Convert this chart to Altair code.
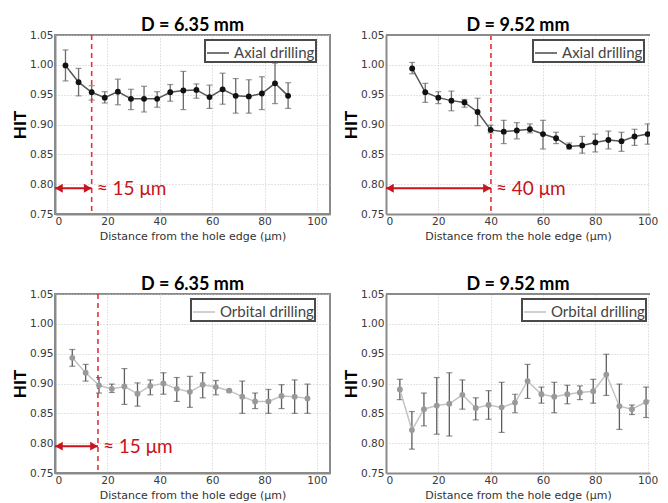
import altair as alt
import pandas as pd

# ---- data ----
ax635_x = [4, 9, 14, 19, 24, 29, 34, 39, 44, 49, 54, 59, 64, 69, 74, 79, 84, 89]
ax635_y = [0.999, 0.971, 0.954, 0.945, 0.955, 0.943, 0.943, 0.943, 0.954, 0.957, 0.958, 0.946, 0.959, 0.948, 0.947, 0.952, 0.969, 0.948]
ax635_hi = [1.025, 0.994, 0.965, 0.955, 0.976, 0.959, 0.964, 0.955, 0.967, 0.989, 0.968, 0.966, 0.986, 0.977, 0.975, 0.980, 1.003, 0.970]
ax635_lo = [0.973, 0.948, 0.941, 0.936, 0.933, 0.925, 0.921, 0.929, 0.939, 0.925, 0.944, 0.927, 0.934, 0.919, 0.919, 0.925, 0.935, 0.927]

ax952_x = [10, 15, 20, 25, 30, 35, 40, 45, 50, 55, 60, 65, 70, 75, 80, 85, 90, 95, 100]
ax952_y = [0.994, 0.954, 0.945, 0.940, 0.937, 0.921, 0.891, 0.888, 0.890, 0.892, 0.884, 0.877, 0.863, 0.865, 0.870, 0.874, 0.872, 0.880, 0.884]
ax952_hi = [1.004, 0.969, 0.955, 0.956, 0.942, 0.944, 0.899, 0.907, 0.903, 0.901, 0.907, 0.887, 0.869, 0.880, 0.884, 0.889, 0.887, 0.892, 0.901]
ax952_lo = [0.985, 0.937, 0.935, 0.923, 0.929, 0.898, 0.886, 0.868, 0.876, 0.886, 0.859, 0.868, 0.859, 0.852, 0.854, 0.859, 0.855, 0.865, 0.867]

or635_x = [6.6, 11.7, 16.8, 21.7, 26.5, 31.5, 36.4, 41.4, 46.5, 51.5, 56.4, 61.4, 66.5, 71.5, 76.4, 81.5, 86.5, 91.5, 96.4]
or635_y = [0.943, 0.918, 0.897, 0.891, 0.895, 0.883, 0.896, 0.900, 0.891, 0.886, 0.898, 0.894, 0.888, 0.878, 0.870, 0.870, 0.879, 0.878, 0.875]
or635_hi = [0.957, 0.932, 0.910, 0.899, 0.925, 0.901, 0.906, 0.918, 0.910, 0.912, 0.918, 0.905, 0.890, 0.904, 0.884, 0.890, 0.898, 0.906, 0.899]
or635_lo = [0.929, 0.904, 0.884, 0.885, 0.865, 0.862, 0.881, 0.882, 0.870, 0.860, 0.876, 0.881, 0.886, 0.850, 0.858, 0.850, 0.858, 0.850, 0.850]

or952_x = [5.3, 9.9, 14.5, 19.4, 24.2, 29.2, 34.3, 39.2, 44.2, 49.3, 54.1, 59.4, 64.3, 69.3, 74.1, 79.2, 84.2, 89.2, 94.0, 99.4, 104.2]
or952_y = [0.890, 0.822, 0.857, 0.863, 0.866, 0.881, 0.859, 0.864, 0.860, 0.868, 0.904, 0.882, 0.878, 0.882, 0.885, 0.887, 0.915, 0.862, 0.857, 0.869, 0.878]
or952_hi = [0.907, 0.853, 0.884, 0.910, 0.918, 0.906, 0.876, 0.888, 0.902, 0.882, 0.932, 0.894, 0.902, 0.897, 0.896, 0.907, 0.949, 0.899, 0.864, 0.894, 0.912]
or952_lo = [0.873, 0.790, 0.829, 0.815, 0.812, 0.857, 0.839, 0.840, 0.818, 0.851, 0.875, 0.867, 0.851, 0.866, 0.873, 0.867, 0.880, 0.823, 0.848, 0.843, 0.840]

titles = ["D = 6.35 mm", "D = 9.52 mm", "D = 6.35 mm", "D = 9.52 mm"]
series_names = ["Axial drilling", "Axial drilling", "Orbital drilling", "Orbital drilling"]
zone_edges = [14.0, 40.1, 16.4, None]          # red dashed line position (µm)
zone_labels = ["≈ 15 μm", "≈ 40 μm", "≈ 15 μm", None]
arrow_y = [0.793, 0.793, 0.795, None]
legend_pos = [(150, 5), (147, 5), (136, 5), (136, 5)]   # legend box top-left inside each panel

X_TICKS = [0, 20, 40, 60, 80, 100]
Y_TICKS = [0.75, 0.80, 0.85, 0.90, 0.95, 1.00, 1.05]
Y_DOMAIN = [0.75, 1.05]
X_MAX_LEFT = 105.0     # full frame of the left-hand panels
X_MAX_RIGHT = 100.9    # right-hand panels are cut off by the picture edge

STYLES = {
    "Axial drilling": dict(line="#555555", point="#111111", err="#6a6a6a"),
    "Orbital drilling": dict(line="#c4c4c4", point="#9a9a9a", err="#5e5e5e"),
}
RED = "#c8141c"
RED_DASH = "#e0353a"
FRAME = "#8a8a8a"
H = 179
W_LEFT = 275
W_RIGHT = 264


def panel(xs, ys, los, his, name, title, edge, label, ay, lpos, xmax, width, right):
    st = STYLES[name]
    df = pd.DataFrame({"x": xs, "y": ys, "lo": los, "hi": his, "series": [name] * len(xs)})
    xsc = alt.Scale(domain=[0, xmax], nice=False)
    ysc = alt.Scale(domain=Y_DOMAIN, nice=False)
    xax = alt.Axis(values=X_TICKS, title="Distance from the hole edge (μm)")
    yax = alt.Axis(values=Y_TICKS, format=".2f", title="HIT")
    base = alt.Chart(df)
    X = alt.X("x:Q", scale=xsc, axis=xax)
    err = base.mark_rule(color=st["err"], strokeWidth=1.3, clip=True).encode(
        x=X, y=alt.Y("lo:Q", scale=ysc, axis=yax), y2="hi:Q")
    cap_lo = base.mark_tick(color=st["err"], orient="horizontal", size=6, thickness=1.2, clip=True).encode(
        x=X, y=alt.Y("lo:Q", scale=ysc, axis=yax))
    cap_hi = base.mark_tick(color=st["err"], orient="horizontal", size=6, thickness=1.2, clip=True).encode(
        x=X, y=alt.Y("hi:Q", scale=ysc, axis=yax))
    line = base.mark_line(strokeWidth=1.5, clip=True).encode(
        x=X, y=alt.Y("y:Q", scale=ysc, axis=yax),
        color=alt.Color("series:N", scale=alt.Scale(domain=[name], range=[st["line"]]),
                        legend=alt.Legend(title=None, orient="none",
                                          legendX=lpos[0], legendY=lpos[1])))
    pts = base.mark_circle(size=34, opacity=1, color=st["point"], clip=True).encode(
        x=X, y=alt.Y("y:Q", scale=ysc, axis=yax))
    layers = [err, cap_lo, cap_hi, line, pts]
    if edge is not None:
        ed = pd.DataFrame({"x0": [0.0], "x1": [edge], "y": [ay], "lab": [label]})
        ec = alt.Chart(ed)
        vline = ec.mark_rule(color=RED_DASH, strokeDash=[5, 4], strokeWidth=1.6).encode(
            x=alt.X("x1:Q", scale=xsc, axis=xax))
        arrow = ec.mark_rule(color=RED, strokeWidth=2).encode(
            x=alt.X("x0:Q", scale=xsc, axis=xax), x2="x1:Q", y=alt.Y("y:Q", scale=ysc, axis=yax))
        head_l = ec.mark_point(shape="triangle-left", size=80, filled=True, opacity=1,
                               color=RED, xOffset=3.9).encode(
            x=alt.X("x0:Q", scale=xsc, axis=xax), y=alt.Y("y:Q", scale=ysc, axis=yax))
        head_r = ec.mark_point(shape="triangle-right", size=80, filled=True, opacity=1,
                               color=RED, xOffset=-3.9).encode(
            x=alt.X("x1:Q", scale=xsc, axis=xax), y=alt.Y("y:Q", scale=ysc, axis=yax))
        txt = ec.mark_text(align="left", baseline="middle", font="Lato", fontSize=19,
                           color=RED, dx=5, dy=1).encode(
            x=alt.X("x1:Q", scale=xsc, axis=xax), y=alt.Y("y:Q", scale=ysc, axis=yax), text="lab:N")
        layers = [vline] + layers + [arrow, head_l, head_r, txt]
    if right:
        # top edge of the frame (the right edge lies beyond the picture)
        tf = pd.DataFrame({"x0": [0.0], "x1": [xmax], "y": [Y_DOMAIN[1]]})
        top_edge = alt.Chart(tf).mark_rule(color=FRAME, strokeWidth=2).encode(
            x=alt.X("x0:Q", scale=xsc, axis=xax), x2="x1:Q", y=alt.Y("y:Q", scale=ysc, axis=yax))
        layers = layers + [top_edge]
    props = dict(width=width, height=H,
                 title=alt.TitleParams(title, font="Lato", fontSize=18, fontWeight="bold",
                                       color="black", offset=-5))
    if right:
        props["view"] = alt.ViewBackground(stroke="transparent")
    return alt.layer(*layers).properties(**props)


p1 = panel(ax635_x, ax635_y, ax635_lo, ax635_hi, series_names[0], titles[0], zone_edges[0],
           zone_labels[0], arrow_y[0], legend_pos[0], X_MAX_LEFT, W_LEFT, False)
p2 = panel(ax952_x, ax952_y, ax952_lo, ax952_hi, series_names[1], titles[1], zone_edges[1],
           zone_labels[1], arrow_y[1], legend_pos[1], X_MAX_RIGHT, W_RIGHT, True)
p3 = panel(or635_x, or635_y, or635_lo, or635_hi, series_names[2], titles[2], zone_edges[2],
           zone_labels[2], arrow_y[2], legend_pos[2], X_MAX_LEFT, W_LEFT, False)
p4 = panel(or952_x, or952_y, or952_lo, or952_hi, series_names[3], titles[3], zone_edges[3],
           zone_labels[3], arrow_y[3], legend_pos[3], X_MAX_RIGHT, W_RIGHT, True)

top = alt.hconcat(p1, p2, spacing=10).resolve_scale(color="independent").resolve_legend(color="independent")
bottom = alt.hconcat(p3, p4, spacing=10).resolve_scale(color="independent").resolve_legend(color="independent")

chart = alt.vconcat(top, bottom, spacing=32).resolve_scale(color="independent").resolve_legend(
    color="independent"
).properties(
    padding={"left": 2, "top": 8, "right": 0, "bottom": 0}
).configure_view(
    stroke=FRAME, strokeWidth=2
).configure_axis(
    domain=True, domainColor=FRAME, domainWidth=2, ticks=False,
    grid=True, gridColor="#c8c8c8", gridDash=[1, 2], gridWidth=1,
    labelFont="DejaVu Sans", labelFontSize=10.6, labelColor="#3a3a3a", labelPadding=2,
    titleColor="black"
).configure_axisX(
    titleFont="DejaVu Sans", titleFontSize=11, titleFontWeight="normal", titleColor="#333333", titlePadding=4
).configure_axisY(
    titleFont="Lato", titleFontSize=17, titleFontWeight="bold", titlePadding=0
).configure_legend(
    strokeColor="#4a4a4a", strokeWidth=2, fillColor="white", padding=1, cornerRadius=0,
    symbolType="stroke", symbolSize=484, symbolStrokeWidth=1.6, labelOffset=4,
    labelFont="Lato", labelFontSize=15, labelColor="#444444"
)

chart.save("out.html", embed_options={"renderer": "svg", "actions": False})
